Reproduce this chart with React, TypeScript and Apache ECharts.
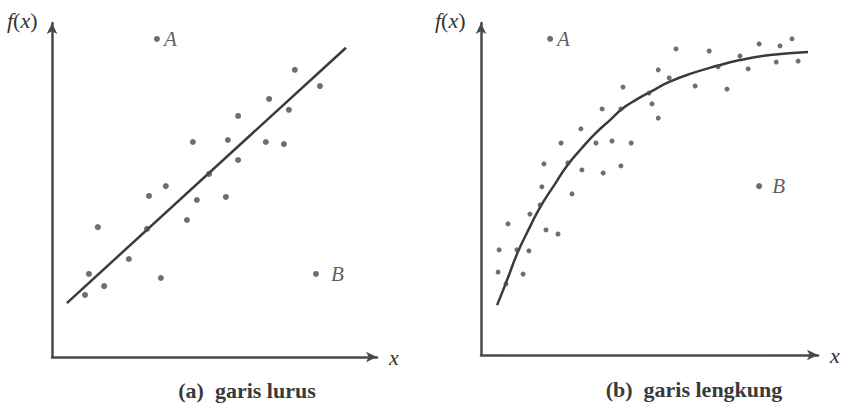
import React, { useEffect, useRef } from "react";
import * as echarts from "echarts";

// (a) straight-line fit: scattered observations and the fitted line
const straightPoints: [number, number][] = [
  [7.36, 8.47], [8.12, 7.99], [6.58, 7.61], [7.18, 7.29], [5.64, 7.11],
  [4.27, 6.34], [5.33, 6.4], [6.48, 6.34], [7.03, 6.28], [5.64, 5.81],
  [4.76, 5.4], [3.45, 5.04], [2.94, 4.75], [4.39, 4.63], [5.27, 4.72],
  [1.39, 3.83], [2.88, 3.78], [4.09, 4.04], [2.33, 2.89], [1.12, 2.45],
  [1.58, 2.09], [1.0, 1.83], [3.3, 2.33],
];
const straightLine: [number, number][] = [
  [0.45, 1.59],
  [8.91, 9.12],
];
const straightOutliers: { name: string; value: [number, number] }[] = [
  { name: "A", value: [3.18, 9.38] },
  { name: "B", value: [8.0, 2.45] },
];

// (b) curved fit: scattered observations and the fitted curve
const curvedPoints: [number, number][] = [
  [5.7, 9.08], [6.67, 9.02], [8.13, 9.23], [8.74, 9.17], [9.09, 9.38],
  [7.57, 8.87], [6.93, 8.55], [7.81, 8.49], [8.63, 8.69], [9.27, 8.72],
  [5.18, 8.46], [5.5, 8.22], [6.26, 7.98], [7.19, 7.89], [4.15, 7.95],
  [4.91, 7.77], [5.0, 7.45], [5.18, 7.03], [3.54, 7.3], [4.09, 7.3],
  [2.92, 6.71], [2.34, 6.29], [3.36, 6.29], [3.83, 6.35], [4.39, 6.29],
  [1.84, 5.67], [2.54, 5.7], [2.95, 5.49], [3.57, 5.4], [4.09, 5.61],
  [1.78, 4.99], [2.66, 4.78], [1.73, 4.45], [1.43, 4.18], [0.79, 3.89],
  [1.9, 3.71], [2.25, 3.59], [0.53, 3.12], [1.05, 3.12], [1.4, 3.09],
  [0.5, 2.46], [1.23, 2.4], [0.73, 2.11],
];
const curvedLine: [number, number][] = [
  [0.47, 1.48], [0.73, 2.14], [1.08, 3.06], [1.43, 3.8], [1.73, 4.39],
  [2.16, 5.07], [2.51, 5.61], [2.95, 6.14], [3.33, 6.56], [3.77, 6.97],
  [4.12, 7.3], [4.53, 7.57], [4.94, 7.8], [5.5, 8.1], [6.11, 8.34],
  [6.9, 8.58], [7.57, 8.75], [8.45, 8.9], [9.56, 8.99],
];
const curvedOutliers: { name: string; value: [number, number] }[] = [
  { name: "A", value: [2.02, 9.38] },
  { name: "B", value: [8.13, 5.01] },
];

const captions = ["(a)  garis lurus", "(b)  garis lengkung"];

const INK = "#3a3a3a";
const DOT = "#4a4a4a";
const SERIF = "'Liberation Serif', 'DejaVu Serif', serif";

function axis(gridIndex: number) {
  return {
    gridIndex,
    type: "value" as const,
    min: 0,
    max: 9.85,
    axisLine: {
      show: true,
      onZero: false,
      symbol: ["none", "arrow"],
      symbolSize: [8, 11],
      lineStyle: { color: "#4a4a4a", width: 2.5 },
    },
    axisTick: { show: false },
    axisLabel: { show: false },
    splitLine: { show: false },
  };
}

function outlierSeries(
  idx: number,
  items: { name: string; value: [number, number] }[],
  distances: number[],
  size: number
) {
  return {
    type: "scatter" as const,
    xAxisIndex: idx,
    yAxisIndex: idx,
    symbolSize: size,
    itemStyle: { color: DOT },
    data: items.map((d, i) => ({
      name: d.name,
      value: d.value,
      label: { distance: distances[i] },
    })),
    label: {
      show: true,
      position: "right",
      formatter: "{b}",
      fontFamily: SERIF,
      fontStyle: "italic",
      fontSize: 21,
      color: "#333",
    },
    z: 4,
  };
}

function captionText(x: number, y: number, text: string) {
  return {
    type: "text",
    x,
    y,
    style: {
      text,
      fontFamily: SERIF,
      fontSize: 22,
      fontWeight: "bold",
      fill: "#3a3a3a",
      align: "center",
      verticalAlign: "middle",
    },
  };
}

function axisNameX(x: number, y: number) {
  return {
    type: "text",
    x,
    y,
    style: {
      text: "x",
      fontFamily: SERIF,
      fontStyle: "italic",
      fontSize: 22,
      fill: "#333",
      verticalAlign: "middle",
    },
  };
}

export default function App() {
  const ref = useRef<HTMLDivElement>(null);

  useEffect(() => {
    if (!ref.current) return;
    const chart = echarts.init(ref.current, undefined, { renderer: "svg" });

    const fxText = {
      text: "{i|f}{p|(}{i|x}{p|)}",
      rich: {
        i: { fontFamily: SERIF, fontStyle: "italic", fontSize: 22, fill: "#333" },
        p: { fontFamily: SERIF, fontSize: 22, fill: "#333" },
      },
    };

    chart.setOption({
      animation: false,
      backgroundColor: "#ffffff",
      grid: [
        { left: 52, top: 23, width: 325, height: 334 },
        { left: 481, top: 23, width: 337, height: 332 },
      ],
      xAxis: [axis(0), axis(1)],
      yAxis: [axis(0), axis(1)],
      series: [
        {
          type: "line",
          xAxisIndex: 0,
          yAxisIndex: 0,
          data: straightLine,
          showSymbol: false,
          lineStyle: { color: INK, width: 2.5 },
          z: 3,
        },
        {
          type: "scatter",
          xAxisIndex: 0,
          yAxisIndex: 0,
          data: straightPoints,
          symbolSize: 6,
          itemStyle: { color: DOT },
          z: 4,
        },
        outlierSeries(0, straightOutliers, [4, 12], 6),
        {
          type: "line",
          xAxisIndex: 1,
          yAxisIndex: 1,
          data: curvedLine,
          smooth: true,
          showSymbol: false,
          lineStyle: { color: INK, width: 2.5 },
          z: 3,
        },
        {
          type: "scatter",
          xAxisIndex: 1,
          yAxisIndex: 1,
          data: curvedPoints,
          symbolSize: 5,
          itemStyle: { color: DOT },
          z: 4,
        },
        outlierSeries(1, curvedOutliers, [4, 10], 6),
      ],
      graphic: [
        { type: "text", left: 7, top: 9, style: fxText },
        { type: "text", left: 435, top: 9, style: fxText },
        axisNameX(389, 357),
        axisNameX(830, 355),
        captionText(247, 390, captions[0]),
        captionText(694, 389, captions[1]),
      ],
    });

    return () => chart.dispose();
  }, []);

  return (
    <div
      ref={ref}
      style={{
        position: "absolute",
        left: 0,
        top: 0,
        width: 841,
        height: 406,
        background: "#fff",
      }}
    />
  );
}
